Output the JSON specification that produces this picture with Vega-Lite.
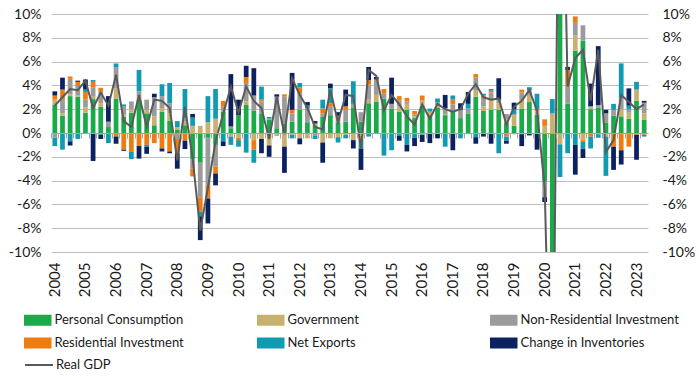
{
  "$schema": "https://vega.github.io/schema/vega-lite/v6.json",
  "width": 597,
  "height": 238,
  "autosize": "none",
  "padding": {"left": 51, "top": 14, "right": 51, "bottom": 126},
  "background": "white",
  "config": {
    "font": "Lato",
    "view": {"stroke": null},
    "axis": {"labelFont": "Lato", "labelColor": "#1a1a1a", "labelFontSize": 14, "title": null},
    "legend": {"labelFont": "Lato", "labelColor": "#1a1a1a", "labelFontSize": 13, "padding": 0, "title": null}
  },
  "datasets": {
    "components": [
      {"k": "pc", "name": "Personal Consumption", "rank": 1},
      {"k": "gov", "name": "Government", "rank": 2},
      {"k": "nri", "name": "Non-Residential Investment", "rank": 3},
      {"k": "res", "name": "Residential Investment", "rank": 4},
      {"k": "nx", "name": "Net Exports", "rank": 5},
      {"k": "inv", "name": "Change in Inventories", "rank": 6}
    ],
    "gdp": [
      {"q":"2004Q1","pc":2.4,"gov":0.4,"nri":-0.4,"res":0.35,"nx":-0.7,"inv":0.35,"gdp":2.3},
      {"q":"2004Q2","pc":1.45,"gov":0.2,"nri":1.2,"res":0.8,"nx":-1.4,"inv":1.0,"gdp":3.0},
      {"q":"2004Q3","pc":3.1,"gov":0.15,"nri":1.3,"res":0.2,"nx":-0.7,"inv":-0.35,"gdp":3.7},
      {"q":"2004Q4","pc":3.05,"gov":0.1,"nri":0.8,"res":0.35,"nx":-0.5,"inv":0.1,"gdp":3.6},
      {"q":"2005Q1","pc":1.7,"gov":0.45,"nri":0.65,"res":0.65,"nx":0.2,"inv":0.85,"gdp":4.4},
      {"q":"2005Q2","pc":2.85,"gov":0.2,"nri":0.8,"res":0.45,"nx":0.15,"inv":-2.35,"gdp":2.1},
      {"q":"2005Q3","pc":2.2,"gov":0.3,"nri":1.0,"res":0.3,"nx":-0.15,"inv":-0.35,"gdp":3.4},
      {"q":"2005Q4","pc":0.5,"gov":0.0,"nri":0.45,"res":0.0,"nx":-0.85,"inv":2.15,"gdp":2.3},
      {"q":"2006Q1","pc":2.9,"gov":0.85,"nri":1.75,"res":-0.3,"nx":0.35,"inv":-0.6,"gdp":4.9},
      {"q":"2006Q2","pc":1.35,"gov":0.2,"nri":0.7,"res":-1.4,"nx":0.15,"inv":-0.1,"gdp":1.0},
      {"q":"2006Q3","pc":1.7,"gov":0.3,"nri":0.65,"res":-1.55,"nx":-0.65,"inv":0.0,"gdp":0.5},
      {"q":"2006Q4","pc":2.8,"gov":0.3,"nri":0.4,"res":-1.1,"nx":1.8,"inv":-1.05,"gdp":3.2},
      {"q":"2007Q1","pc":1.65,"gov":0.3,"nri":0.85,"res":-1.0,"nx":-0.15,"inv":-0.6,"gdp":0.5},
      {"q":"2007Q2","pc":0.65,"gov":0.75,"nri":1.6,"res":-0.85,"nx":0.0,"inv":0.3,"gdp":2.8},
      {"q":"2007Q3","pc":1.8,"gov":0.3,"nri":1.0,"res":-1.3,"nx":1.0,"inv":-0.25,"gdp":2.7},
      {"q":"2007Q4","pc":1.05,"gov":0.6,"nri":0.85,"res":-1.55,"nx":1.7,"inv":-0.15,"gdp":2.1},
      {"q":"2008Q1","pc":0.3,"gov":0.2,"nri":-0.5,"res":-1.2,"nx":0.5,"inv":-1.3,"gdp":-2.3},
      {"q":"2008Q2","pc":0.65,"gov":0.3,"nri":0.3,"res":-0.65,"nx":2.45,"inv":-0.7,"gdp":2.2},
      {"q":"2008Q3","pc":-2.2,"gov":0.6,"nri":-0.8,"res":-0.65,"nx":0.7,"inv":0.3,"gdp":-2.1},
      {"q":"2008Q4","pc":-2.5,"gov":0.6,"nri":-2.9,"res":-1.2,"nx":-0.4,"inv":-2.0,"gdp":-8.2},
      {"q":"2009Q1","pc":-0.4,"gov":0.9,"nri":-4.0,"res":-1.1,"nx":2.2,"inv":-2.1,"gdp":-4.6},
      {"q":"2009Q2","pc":-1.0,"gov":1.2,"nri":-1.8,"res":-0.6,"nx":2.5,"inv":-1.0,"gdp":-0.7},
      {"q":"2009Q3","pc":1.8,"gov":0.0,"nri":0.4,"res":0.5,"nx":-0.7,"inv":-0.4,"gdp":1.6},
      {"q":"2009Q4","pc":0.4,"gov":-0.3,"nri":0.15,"res":0.0,"nx":-0.7,"inv":4.4,"gdp":3.9},
      {"q":"2010Q1","pc":1.5,"gov":-0.4,"nri":0.0,"res":-0.2,"nx":-0.55,"inv":1.3,"gdp":1.7},
      {"q":"2010Q2","pc":2.35,"gov":0.3,"nri":1.55,"res":0.5,"nx":-1.65,"inv":0.95,"gdp":3.9},
      {"q":"2010Q3","pc":1.9,"gov":-0.6,"nri":1.25,"res":-0.8,"nx":-1.1,"inv":2.3,"gdp":2.7},
      {"q":"2010Q4","pc":1.65,"gov":-0.5,"nri":1.0,"res":0.15,"nx":1.1,"inv":-1.2,"gdp":2.1},
      {"q":"2011Q1","pc":1.1,"gov":-1.0,"nri":0.1,"res":-0.05,"nx":0.15,"inv":-0.95,"gdp":-0.5},
      {"q":"2011Q2","pc":0.4,"gov":-0.25,"nri":2.65,"res":0.0,"nx":0.0,"inv":0.2,"gdp":3.0},
      {"q":"2011Q3","pc":0.8,"gov":-1.15,"nri":2.25,"res":0.2,"nx":0.0,"inv":-2.2,"gdp":-0.1},
      {"q":"2011Q4","pc":0.95,"gov":-0.15,"nri":0.7,"res":0.3,"nx":-0.3,"inv":3.1,"gdp":4.6},
      {"q":"2012Q1","pc":1.95,"gov":-0.45,"nri":1.4,"res":0.5,"nx":0.35,"inv":-0.5,"gdp":3.2},
      {"q":"2012Q2","pc":0.9,"gov":-0.45,"nri":1.2,"res":0.0,"nx":0.2,"inv":0.3,"gdp":2.1},
      {"q":"2012Q3","pc":0.65,"gov":0.15,"nri":-0.25,"res":0.0,"nx":-0.25,"inv":0.2,"gdp":0.5},
      {"q":"2012Q4","pc":1.35,"gov":-0.8,"nri":0.3,"res":0.4,"nx":0.75,"inv":-1.7,"gdp":0.3},
      {"q":"2013Q1","pc":1.5,"gov":-0.45,"nri":0.7,"res":0.3,"nx":1.25,"inv":0.4,"gdp":3.6},
      {"q":"2013Q2","pc":0.9,"gov":-0.35,"nri":0.3,"res":0.25,"nx":-0.45,"inv":0.3,"gdp":0.9},
      {"q":"2013Q3","pc":0.95,"gov":-0.15,"nri":1.0,"res":0.3,"nx":-0.3,"inv":1.4,"gdp":3.2},
      {"q":"2013Q4","pc":2.15,"gov":-0.6,"nri":0.3,"res":0.0,"nx":1.9,"inv":-0.7,"gdp":3.1},
      {"q":"2014Q1","pc":0.95,"gov":-0.25,"nri":0.8,"res":-0.25,"nx":-0.8,"inv":-1.8,"gdp":-1.3},
      {"q":"2014Q2","pc":2.5,"gov":0.3,"nri":1.25,"res":0.4,"nx":-0.3,"inv":1.1,"gdp":5.3},
      {"q":"2014Q3","pc":2.65,"gov":0.55,"nri":1.3,"res":0.0,"nx":0.0,"inv":0.2,"gdp":4.8},
      {"q":"2014Q4","pc":2.9,"gov":0.0,"nri":0.4,"res":0.4,"nx":-1.9,"inv":0.0,"gdp":1.9},
      {"q":"2015Q1","pc":2.05,"gov":0.0,"nri":0.4,"res":0.0,"nx":-1.45,"inv":2.2,"gdp":3.2},
      {"q":"2015Q2","pc":1.8,"gov":0.45,"nri":0.5,"res":0.35,"nx":-0.25,"inv":-0.4,"gdp":2.4},
      {"q":"2015Q3","pc":1.95,"gov":0.5,"nri":0.2,"res":0.3,"nx":-1.0,"inv":-0.55,"gdp":1.4},
      {"q":"2015Q4","pc":1.25,"gov":0.15,"nri":0.15,"res":0.3,"nx":-0.4,"inv":-0.7,"gdp":0.7},
      {"q":"2016Q1","pc":2.25,"gov":0.5,"nri":-0.15,"res":0.4,"nx":0.0,"inv":-0.6,"gdp":2.4},
      {"q":"2016Q2","pc":1.5,"gov":0.3,"nri":0.0,"res":0.0,"nx":0.25,"inv":-0.85,"gdp":1.2},
      {"q":"2016Q3","pc":2.1,"gov":0.2,"nri":0.3,"res":0.0,"nx":0.3,"inv":-0.45,"gdp":2.45},
      {"q":"2016Q4","pc":1.5,"gov":0.1,"nri":0.5,"res":0.0,"nx":-1.15,"inv":1.1,"gdp":2.0},
      {"q":"2017Q1","pc":1.9,"gov":0.0,"nri":0.5,"res":0.4,"nx":0.35,"inv":-1.45,"gdp":1.8},
      {"q":"2017Q2","pc":1.25,"gov":0.0,"nri":0.7,"res":0.0,"nx":-0.45,"inv":0.55,"gdp":2.0},
      {"q":"2017Q3","pc":1.65,"gov":-0.1,"nri":0.4,"res":0.0,"nx":0.4,"inv":1.0,"gdp":3.3},
      {"q":"2017Q4","pc":3.05,"gov":0.5,"nri":1.1,"res":0.3,"nx":-0.35,"inv":-0.55,"gdp":4.1},
      {"q":"2018Q1","pc":1.85,"gov":0.4,"nri":0.7,"res":0.2,"nx":0.15,"inv":-0.3,"gdp":3.0},
      {"q":"2018Q2","pc":1.95,"gov":0.85,"nri":0.6,"res":0.15,"nx":0.15,"inv":-0.9,"gdp":2.8},
      {"q":"2018Q3","pc":1.95,"gov":0.55,"nri":0.3,"res":0.0,"nx":-1.7,"inv":1.8,"gdp":2.9},
      {"q":"2018Q4","pc":0.85,"gov":0.3,"nri":0.45,"res":-0.3,"nx":-0.35,"inv":-0.25,"gdp":0.7},
      {"q":"2019Q1","pc":0.6,"gov":0.9,"nri":0.1,"res":-0.1,"nx":0.4,"inv":0.55,"gdp":2.2},
      {"q":"2019Q2","pc":2.05,"gov":0.7,"nri":0.65,"res":0.25,"nx":-0.1,"inv":-1.0,"gdp":2.7},
      {"q":"2019Q3","pc":2.6,"gov":0.6,"nri":0.3,"res":0.1,"nx":0.25,"inv":-0.2,"gdp":3.6},
      {"q":"2019Q4","pc":1.55,"gov":0.3,"nri":0.0,"res":0.15,"nx":1.3,"inv":-1.4,"gdp":1.9},
      {"q":"2020Q1","pc":-4.1,"gov":0.6,"nri":-1.3,"res":0.55,"nx":0.0,"inv":-0.4,"gdp":-4.6},
      {"q":"2020Q2","pc":-24.0,"gov":1.65,"nri":-4.0,"res":-1.8,"nx":1.2,"inv":-3.6,"gdp":-29.9},
      {"q":"2020Q3","pc":25.0,"gov":-0.95,"nri":2.9,"res":1.6,"nx":-2.75,"inv":6.6,"gdp":35.3},
      {"q":"2020Q4","pc":2.45,"gov":0.0,"nri":1.5,"res":1.35,"nx":-1.7,"inv":0.25,"gdp":3.9},
      {"q":"2021Q1","pc":6.9,"gov":1.3,"nri":1.05,"res":0.55,"nx":-1.0,"inv":-2.5,"gdp":6.3},
      {"q":"2021Q2","pc":7.75,"gov":-0.6,"nri":1.3,"res":-0.15,"nx":-0.6,"inv":-0.75,"gdp":7.0},
      {"q":"2021Q3","pc":2.0,"gov":0.15,"nri":0.1,"res":-0.3,"nx":-1.0,"inv":1.9,"gdp":2.7},
      {"q":"2021Q4","pc":2.15,"gov":-0.1,"nri":0.2,"res":0.0,"nx":-0.3,"inv":4.95,"gdp":7.0},
      {"q":"2022Q1","pc":0.85,"gov":-0.3,"nri":0.8,"res":0.0,"nx":-3.3,"inv":0.3,"gdp":-1.6},
      {"q":"2022Q2","pc":1.45,"gov":0.0,"nri":0.5,"res":-1.15,"nx":0.5,"inv":-1.95,"gdp":-0.6},
      {"q":"2022Q3","pc":1.4,"gov":0.6,"nri":0.95,"res":-1.45,"nx":2.9,"inv":-1.2,"gdp":3.2},
      {"q":"2022Q4","pc":1.2,"gov":0.5,"nri":0.3,"res":-1.15,"nx":0.3,"inv":1.45,"gdp":2.6},
      {"q":"2023Q1","pc":2.7,"gov":0.95,"nri":0.0,"res":-0.15,"nx":0.65,"inv":-2.1,"gdp":2.0},
      {"q":"2023Q2","pc":1.1,"gov":0.55,"nri":0.9,"res":-0.15,"nx":-0.15,"inv":0.15,"gdp":2.4}
    ]
  },
  "data": {"name": "gdp"},
  "layer": [
    {
      "transform": [
        {"fold": ["pc", "gov", "nri", "res", "nx", "inv"], "as": ["k", "value"]},
        {"lookup": "k", "from": {"data": {"name": "components"}, "key": "k", "fields": ["name", "rank"]}}
      ],
      "mark": {"type": "bar", "clip": true},
      "encoding": {
        "x": {
          "field": "q", "type": "ordinal", "sort": null,
          "scale": {"paddingInner": 0.38, "paddingOuter": 0.19},
          "axis": {
            "orient": "bottom", "domain": false, "ticks": false, "grid": false,
            "labelAngle": -90, "labelAlign": "right", "labelBaseline": "middle",
            "labelExpr": "slice(datum.value, 4) == 'Q1' ? slice(datum.value, 0, 4) : ''",
            "labelPadding": 10, "labelOverlap": false, "labelBound": false, "labelFontSize": 15
          }
        },
        "y": {
          "field": "value", "type": "quantitative", "stack": "zero",
          "scale": {"domain": [-10, 10], "nice": false, "zero": false},
          "axis": {
            "orient": "left", "values": [-10, -8, -6, -4, -2, 0, 2, 4, 6, 8, 10],
            "labelExpr": "datum.value + '%'", "grid": true, "gridColor": "#c0c0c0", "gridWidth": 1,
            "domain": false, "ticks": false, "labelPadding": 10
          }
        },
        "color": {
          "field": "name", "type": "nominal",
          "scale": {
            "domain": ["Personal Consumption", "Residential Investment", "Government", "Net Exports", "Non-Residential Investment", "Change in Inventories"],
            "range": ["#1AAA4A", "#EE7C10", "#C8B06E", "#109BB2", "#9B9B9B", "#0C2160"]
          },
          "legend": {
            "orient": "none", "legendX": -19.75, "legendY": 299.5, "columns": 3,
            "symbolType": "M-2.5,-1H2.5V1H-2.5Z", "symbolSize": 121, "symbolStrokeWidth": 0,
            "labelOffset": 10.25, "columnPadding": 43, "rowPadding": 9, "gridAlign": "all", "labelLimit": 300
          }
        },
        "order": {"field": "rank", "type": "quantitative", "sort": "ascending"}
      }
    },
    {
      "mark": {"type": "line", "clip": true, "strokeWidth": 2},
      "encoding": {
        "x": {
          "field": "q", "type": "ordinal", "sort": null,
          "axis": {
            "orient": "bottom", "offset": -119, "labels": false, "grid": false,
            "domain": true, "domainColor": "#a6a6a6", "domainWidth": 1,
            "ticks": true, "tickColor": "#a6a6a6", "tickSize": 5, "tickWidth": 1,
            "bandPosition": -0.305, "zindex": 1
          }
        },
        "y": {
          "field": "gdp", "type": "quantitative",
          "scale": {"domain": [-10, 10], "nice": false, "zero": false},
          "axis": {
            "orient": "right", "values": [-10, -8, -6, -4, -2, 0, 2, 4, 6, 8, 10],
            "labelExpr": "datum.value + '%'", "grid": false,
            "domain": false, "ticks": false, "labelPadding": 14
          }
        },
        "stroke": {
          "datum": "Real GDP",
          "scale": {"range": ["#5A5A5A"]},
          "legend": {
            "orient": "none", "legendX": -27, "legendY": 336,
            "symbolType": "stroke", "symbolSize": 784, "symbolStrokeWidth": 2,
            "labelOffset": 2
          }
        }
      }
    }
  ],
  "resolve": {"axis": {"x": "independent", "y": "independent"}}
}
